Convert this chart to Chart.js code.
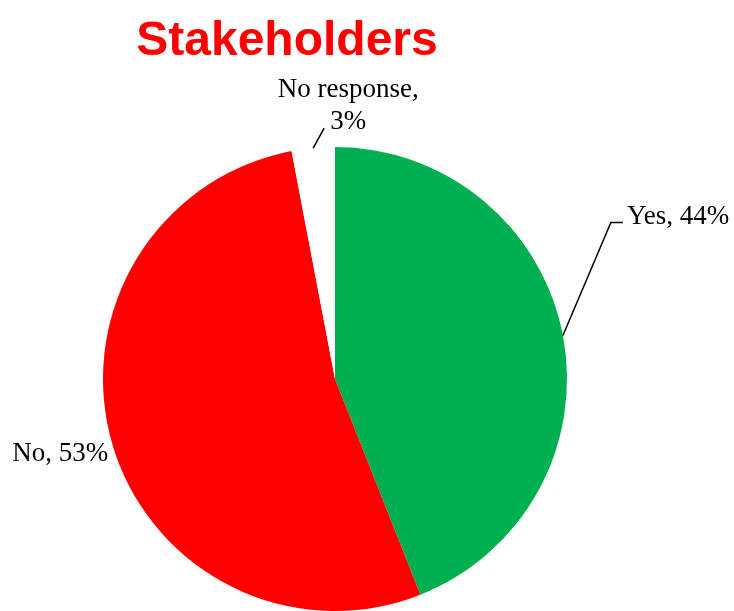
<!DOCTYPE html>
<html>
<head>
<meta charset="utf-8">
<script src="https://cdn.jsdelivr.net/npm/chart.js@4/dist/chart.umd.min.js"></script>
<style>
  html, body { margin: 0; padding: 0; background: #fff; overflow: hidden; }
  #wrap { width: 734px; height: 611px; position: relative; }
</style>
</head>
<body>
<div id="wrap"><canvas id="c" width="734" height="611"></canvas></div>
<script>
const chartTitle = 'Stakeholders';
const categories = ['Yes', 'No', 'No response'];
const values = [44, 53, 3];
const colors = ['#00B050', '#FF0000', '#FFFFFF'];

// label placement styles (offsets relative to the slice's outer mid-point)
const labelStyles = [
  { leader: [[48, -113], [60, -113]], align: 'left', dx: 64, dy: [-112], wrap: false },
  { leader: null, align: 'right', dx: -4, dy: [17], wrap: false },
  { leader: [[11, -20]], align: 'center', dx: 35, dy: [-51, -19], wrap: true }
];

const labelPlugin = {
  id: 'pieLabels',
  afterDatasetsDraw(chart) {
    const ctx = chart.ctx;
    const meta = chart.getDatasetMeta(0);
    ctx.save();
    ctx.font = '27px "Liberation Serif", "Times New Roman", serif';
    ctx.fillStyle = '#000';
    ctx.strokeStyle = '#000';
    ctx.lineWidth = 1.5;
    ctx.textBaseline = 'alphabetic';
    meta.data.forEach((arc, i) => {
      const p = arc.getProps(['x', 'y', 'startAngle', 'endAngle', 'outerRadius'], true);
      const mid = (p.startAngle + p.endAngle) / 2;
      const ex = p.x + p.outerRadius * Math.cos(mid);
      const ey = p.y + p.outerRadius * Math.sin(mid);
      const st = labelStyles[i];
      if (st.leader) {
        ctx.beginPath();
        ctx.moveTo(ex, ey);
        st.leader.forEach(pt => ctx.lineTo(ex + pt[0], ey + pt[1]));
        ctx.stroke();
      }
      const lines = st.wrap
        ? [categories[i] + ',', values[i] + '%']
        : [categories[i] + ', ' + values[i] + '%'];
      ctx.textAlign = st.align;
      lines.forEach((t, k) => ctx.fillText(t, ex + st.dx, ey + st.dy[k]));
    });
    ctx.restore();
  }
};

const titlePlugin = {
  id: 'customTitle',
  afterDraw(chart) {
    const ctx = chart.ctx;
    ctx.save();
    ctx.font = 'bold 48px "Liberation Sans", Arial, sans-serif';
    ctx.fillStyle = '#FF0000';
    ctx.textAlign = 'center';
    ctx.textBaseline = 'alphabetic';
    ctx.fillText(chartTitle, 287, 55);
    ctx.restore();
  }
};

new Chart(document.getElementById('c'), {
  type: 'pie',
  data: {
    labels: categories,
    datasets: [{
      data: values,
      backgroundColor: colors,
      borderWidth: 0
    }]
  },
  options: {
    responsive: false,
    animation: false,
    layout: { padding: { left: 103, right: 167, top: 147, bottom: 0 } },
    plugins: {
      legend: { display: false },
      tooltip: { enabled: false },
      title: { display: false }
    }
  },
  plugins: [labelPlugin, titlePlugin]
});
</script>
</body>
</html>
